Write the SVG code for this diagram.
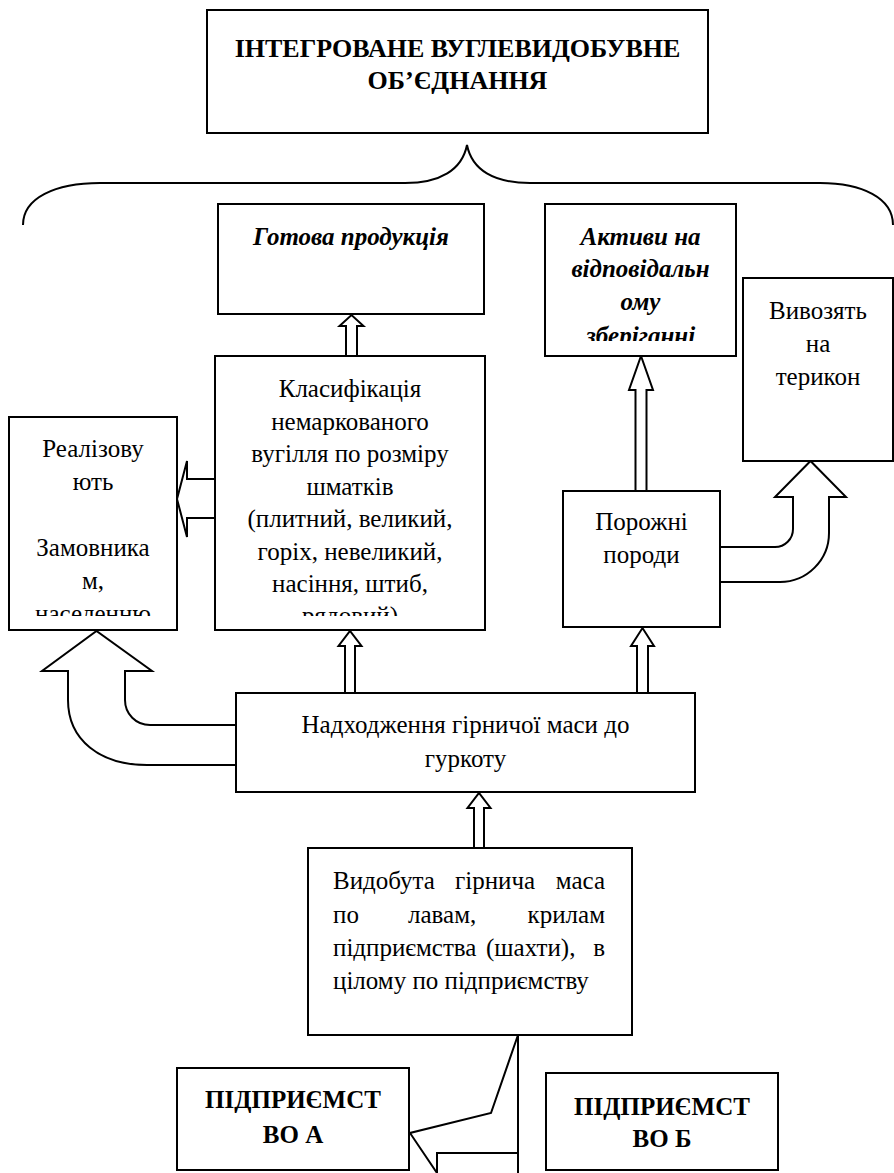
<svg xmlns="http://www.w3.org/2000/svg" width="894" height="1173" viewBox="0 0 894 1173" font-family="'Liberation Serif', 'Times New Roman', 'DejaVu Serif', serif">
<style>
.box{fill:#fff;stroke:#000;stroke-width:2}
.arr{fill:#fff;stroke:#000;stroke-width:2;stroke-linejoin:miter}
.ln{fill:none;stroke:#000;stroke-width:2}
text{font-family:'Liberation Serif','Times New Roman','DejaVu Serif',serif;font-size:25px;fill:#000}
.c{text-anchor:middle}
.b{font-weight:bold}
.bi{font-weight:bold;font-style:italic}
.t{font-size:26px}
</style>
<defs>
<clipPath id="clipAkt"><rect x="545" y="204" width="191" height="137"/></clipPath>
<clipPath id="clipLeft"><rect x="9" y="417" width="168" height="199"/></clipPath>
<clipPath id="clipCls"><rect x="215" y="356" width="270" height="260"/></clipPath>
</defs>
<rect width="894" height="1173" fill="#fff"/>

<g id="connectors">
<path class="ln" d="M 23 225 C 23 198, 55 183, 100 183 L 405 183 C 440 183, 462 170, 467 145 C 472 170, 494 183, 530 183 L 820 183 C 862 183, 893 198, 893 225"/>
<polygon class="arr" points="346,356 346,326 339.5,326 351.5,315 363.5,326 357,326 357,356"/>
<polygon class="arr" points="215,479 187,479 187,461 177,499 187,537 187,518 215,518"/>
<polygon class="arr" points="345,693 345,646 338.5,646 350,631 361.5,646 355,646 355,693"/>
<polygon class="arr" points="637,693 637,646 631,646 642.5,628 654,646 648,646 648,693"/>
<polygon class="arr" points="635.5,491 635.5,390 629,390 641,356 653,390 646.5,390 646.5,491"/>
<polygon class="arr" points="474,848 474,808 467.5,808 479,793 490.5,808 484,808 484,848"/>
<path class="arr" d="M 236 725 L 150 725 C 136 725, 125 714, 125 700 L 125 671 L 152 671 L 96.5 631 L 42 671 L 68 671 L 68 700 C 68 740, 100 765, 147 765 L 236 765"/>
<path class="arr" d="M 720 547 L 775 547 C 785 547, 793 539, 793 529 L 793 497 L 775 497 L 810.5 461 L 846 497 L 829 497 L 829 533 C 829 560, 807 582, 780 582 L 720 582"/>
<path class="ln" d="M 518 1035 L 491 1113 L 410 1133 L 437 1173 M 437 1173 L 437 1153 L 518 1153 M 518 1035 L 518 1173"/>
</g>

<g id="n-title">
<rect class="box" x="207" y="10" width="501" height="123"/>
<text class="c b t" x="457.5" y="57">ІНТЕГРОВАНЕ ВУГЛЕВИДОБУВНЕ</text>
<text class="c b t" x="457.5" y="89">ОБ’ЄДНАННЯ</text>
</g>

<g id="n-gotova">
<rect class="box" x="218" y="204" width="266" height="110"/>
<text class="c bi" x="351" y="245">Готова продукція</text>
</g>

<g id="n-aktyvy">
<rect class="box" x="545" y="204" width="191" height="152"/>
<g clip-path="url(#clipAkt)">
<text class="c bi" x="640.5" y="245">Активи на</text>
<text class="c bi" x="640.5" y="277">відповідальн</text>
<text class="c bi" x="640.5" y="310">ому</text>
<text class="c bi" x="640.5" y="344">зберіганні</text>
</g>
</g>

<g id="n-vyvoziat">
<rect class="box" x="743" y="278" width="150" height="183"/>
<text class="c" x="818" y="319">Вивозять</text>
<text class="c" x="818" y="352">на</text>
<text class="c" x="818" y="385">терикон</text>
</g>

<g id="n-klasyf">
<rect class="box" x="215" y="356" width="270" height="274"/>
<g clip-path="url(#clipCls)">
<text class="c" x="350" y="397">Класифікація</text>
<text class="c" x="350" y="429.5">немаркованого</text>
<text class="c" x="350" y="462">вугілля по розміру</text>
<text class="c" x="350" y="494.5">шматків</text>
<text class="c" x="350" y="527">(плитний, великий,</text>
<text class="c" x="350" y="559.5">горіх, невеликий,</text>
<text class="c" x="350" y="592">насіння, штиб,</text>
<text class="c" x="350" y="624">рядовий)</text>
</g>
</g>

<g id="n-realiz">
<rect class="box" x="9" y="417" width="168" height="213"/>
<g clip-path="url(#clipLeft)">
<text class="c" x="93" y="457">Реалізову</text>
<text class="c" x="93" y="490">ють</text>
<text class="c" x="93" y="556">Замовника</text>
<text class="c" x="93" y="589">м,</text>
<text class="c" x="93" y="622">населенню</text>
</g>
</g>

<g id="n-porozhni">
<rect class="box" x="563" y="491" width="157" height="136"/>
<text class="c" x="641.5" y="530">Порожні</text>
<text class="c" x="641.5" y="563">породи</text>
</g>

<g id="n-nadkh">
<rect class="box" x="236" y="693" width="459" height="99"/>
<text class="c" x="465.5" y="733">Надходження гірничої маси до</text>
<text class="c" x="465.5" y="767">гуркоту</text>
</g>

<g id="n-vydobuta">
<rect class="box" x="308" y="848" width="324" height="187"/>
<text y="889"><tspan x="333">Видобута</tspan><tspan x="455">гірнича</tspan><tspan x="605" text-anchor="end">маса</tspan></text>
<text y="923"><tspan x="333">по</tspan><tspan x="408">лавам,</tspan><tspan x="605" text-anchor="end">крилам</tspan></text>
<text y="956"><tspan x="333">підприємства</tspan><tspan x="486">(шахти),</tspan><tspan x="605" text-anchor="end">в</tspan></text>
<text x="333" y="989">цілому по підприємству</text>
</g>

<g id="n-pidpr-a">
<rect class="box" x="177" y="1068" width="232" height="102"/>
<text class="c b" x="293" y="1108">ПІДПРИЄМСТ</text>
<text class="c b" x="293" y="1143">ВО А</text>
</g>

<g id="n-pidpr-b">
<rect class="box" x="546" y="1073" width="232" height="97"/>
<text class="c b" x="662" y="1115">ПІДПРИЄМСТ</text>
<text class="c b" x="662" y="1147">ВО Б</text>
</g>
</svg>
